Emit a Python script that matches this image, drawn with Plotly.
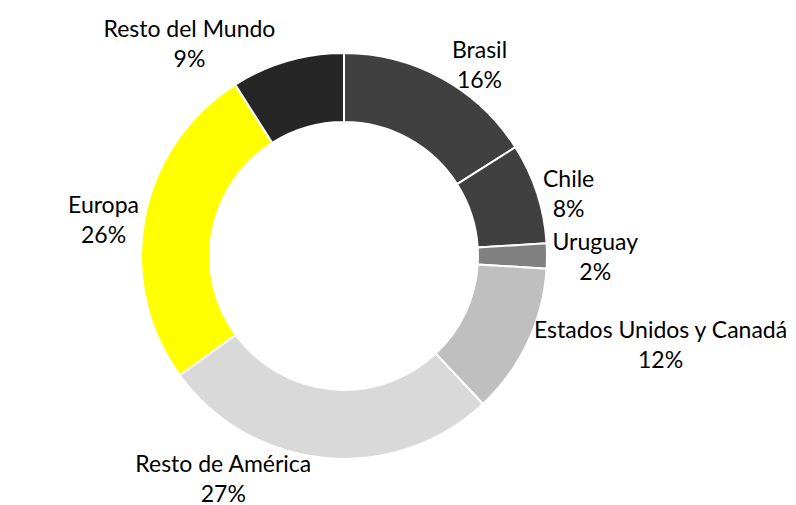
import plotly.graph_objects as go

labels = ["Brasil", "Chile", "Uruguay", "Estados Unidos y Canadá", "Resto de América", "Europa", "Resto del Mundo"]
values = [16, 8, 2, 12, 27, 26, 9]
colors = ["#404040", "#404040", "#808080", "#bfbfbf", "#d9d9d9", "#ffff00", "#262626"]

# Ring (no text)
ring = go.Pie(
    labels=labels,
    values=values,
    hole=0.66,
    sort=False,
    direction="clockwise",
    rotation=0,
    marker=dict(colors=colors, line=dict(color="white", width=2)),
    textinfo="none",
    hoverinfo="label+percent",
    automargin=False,
    domain=dict(x=[0.1688, 0.6840], y=[0.0926, 0.9095]),
    showlegend=False,
)

# Transparent copy that carries the outside labels
label_layer = go.Pie(
    labels=labels,
    values=values,
    hole=0.66,
    sort=False,
    direction="clockwise",
    rotation=0,
    marker=dict(colors=["rgba(0,0,0,0)"] * len(values), line=dict(width=0)),
    textposition="outside",
    texttemplate="%{label}<br>%{percent:.0%}",
    textfont=dict(family="Lato", size=23, color="black"),
    hoverinfo="skip",
    automargin=False,
    domain=dict(x=[0.1802, 0.6726], y=[0.1107, 0.8913]),
    showlegend=False,
)

fig = go.Figure([ring, label_layer])
fig.update_layout(
    width=788, height=497,
    margin=dict(l=0, r=0, t=0, b=0),
    paper_bgcolor="white",
    plot_bgcolor="white",
)
fig.write_html("out.html")
